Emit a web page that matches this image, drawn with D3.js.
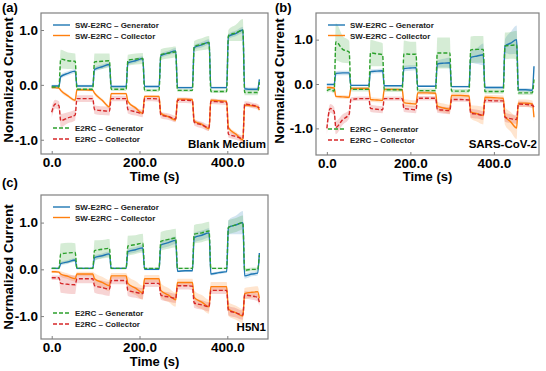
<!DOCTYPE html>
<html>
<head>
<meta charset="utf-8">
<script src="https://cdn.jsdelivr.net/npm/d3@7"></script>
<style>
  body { margin: 0; background: #fff; }
  text { font-family: "Liberation Sans", Arial, sans-serif; }
</style>
</head>
<body>
<svg id="fig" width="546" height="371"></svg>
<script>
// ---------- data ----------
const xTicks = [0, 200, 400];
const yTicks = [-1, 0, 1];
const seriesNames = ['SW-E2RC \u2013 Generator', 'SW-E2RC \u2013 Collector', 'E2RC \u2013 Generator', 'E2RC \u2013 Collector'];

// sample times (s); panels (a) and (c) share one time base, (b) has its own
const timeAC = [0, 8, 16.5, 20.5, 37, 53.5, 57.5, 76, 93.5, 97.5, 115, 131.5, 135.5, 153, 169.5,
  173.5, 191, 207.5, 211.5, 229, 244.5, 248.5, 266, 282.5, 286.5, 304, 320.5, 324.5, 342, 358.5,
  362.5, 381, 398.5, 402.5, 420, 435.5, 439.5, 456, 469, 473];
const timeB = [0, 8, 17.5, 21.5, 38, 53.5, 57.5, 78, 100.5, 104.5, 120, 133.5, 137.5, 158, 180.5,
  184.5, 200, 213.5, 217.5, 240, 260.5, 264.5, 280, 294.5, 298.5, 320, 340.5, 344.5, 360, 374.5,
  378.5, 400, 422.5, 426.5, 440, 454.5, 458.5, 476, 492, 496];

// (a) Blank Medium
const blankSwGen = [-0.02,-0.02,-0.02, 0.15,0.21,0.25, -0.02,-0.02,-0.02, 0.28,0.33,0.37, -0.03,-0.03,-0.03,
  0.40,0.44,0.48, -0.03,-0.03,-0.03, 0.53,0.58,0.62, -0.05,-0.05,-0.05, 0.68,0.73,0.78, -0.05,-0.05,-0.05,
  0.88,0.94,1.0, -0.07,-0.08,-0.08, 0.1];
const blankSwGenErr = [0.02,0.02,0.02, 0.04,0.04,0.04, 0.02,0.02,0.02, 0.04,0.04,0.04, 0.02,0.02,0.02,
  0.04,0.04,0.04, 0.02,0.02,0.02, 0.04,0.04,0.05, 0.02,0.02,0.02, 0.04,0.05,0.05, 0.02,0.02,0.02,
  0.05,0.05,0.06, 0.03,0.03,0.03, 0.03];
const blankSwCol = [-0.05,-0.05,-0.06, -0.1,-0.2,-0.28, -0.09,-0.09,-0.1, -0.15,-0.28,-0.4, -0.16,-0.16,-0.16,
  -0.3,-0.42,-0.52, -0.21,-0.21,-0.21, -0.52,-0.58,-0.64, -0.26,-0.26,-0.27, -0.66,-0.72,-0.8, -0.28,-0.29,-0.3,
  -0.78,-0.9,-1.0, -0.37,-0.38,-0.4, -0.46];
const blankSwColErr = [0.02,0.02,0.02, 0.03,0.03,0.03, 0.02,0.02,0.02, 0.03,0.03,0.03, 0.02,0.02,0.02,
  0.03,0.03,0.03, 0.02,0.02,0.02, 0.03,0.03,0.03, 0.02,0.02,0.02, 0.03,0.03,0.04, 0.02,0.02,0.02,
  0.04,0.04,0.04, 0.03,0.03,0.03, 0.03];
const blankGen = [-0.04,-0.04,-0.04, 0.47,0.44,0.43, -0.08,-0.08,-0.08, 0.42,0.43,0.44, -0.08,-0.08,-0.08,
  0.45,0.47,0.48, -0.1,-0.1,-0.1, 0.55,0.58,0.6, -0.1,-0.1,-0.1, 0.7,0.74,0.77, -0.12,-0.12,-0.12,
  0.9,0.95,1.0, -0.14,-0.14,-0.14, 0.05];
const blankGenErr = [0.03,0.03,0.03, 0.17,0.15,0.14, 0.03,0.03,0.03, 0.15,0.14,0.13, 0.03,0.03,0.03,
  0.1,0.1,0.1, 0.03,0.03,0.03, 0.1,0.1,0.1, 0.03,0.03,0.03, 0.1,0.11,0.12, 0.03,0.03,0.03,
  0.1,0.15,0.2, 0.05,0.05,0.05, 0.04];
const blankCol = [-0.5,-0.35,-0.38, -0.65,-0.6,-0.55, -0.25,-0.25,-0.25, -0.45,-0.47,-0.48, -0.25,-0.25,-0.25,
  -0.45,-0.49,-0.52, -0.25,-0.25,-0.26, -0.55,-0.58,-0.62, -0.28,-0.28,-0.29, -0.68,-0.73,-0.78, -0.3,-0.31,-0.32,
  -0.9,-0.94,-0.98, -0.35,-0.37,-0.4, -0.42];
const blankColErr = [0.1,0.08,0.08, 0.12,0.1,0.1, 0.06,0.06,0.06, 0.08,0.08,0.08, 0.05,0.05,0.05,
  0.07,0.07,0.07, 0.05,0.05,0.05, 0.06,0.06,0.06, 0.05,0.05,0.05, 0.06,0.06,0.06, 0.05,0.05,0.05,
  0.06,0.06,0.06, 0.05,0.05,0.05, 0.05];

// (b) SARS-CoV-2
const sarsSwGen = [-0.01,-0.01,-0.01, 0.24,0.25,0.25, -0.03,-0.03,-0.03, 0.28,0.29,0.3, -0.04,-0.04,-0.04,
  0.35,0.36,0.37, -0.05,-0.05,-0.05, 0.45,0.47,0.48, -0.06,-0.06,-0.06, 0.6,0.63,0.66, -0.08,-0.08,-0.08,
  0.85,0.92,1.0, -0.13,-0.13,-0.14, 0.4];
const sarsSwGenErr = [0.02,0.02,0.02, 0.05,0.05,0.05, 0.02,0.02,0.02, 0.05,0.05,0.05, 0.02,0.02,0.02,
  0.06,0.06,0.06, 0.02,0.02,0.02, 0.08,0.1,0.12, 0.02,0.02,0.02, 0.12,0.18,0.25, 0.03,0.03,0.03,
  0.15,0.25,0.32, 0.04,0.04,0.04, 0.04];
const sarsSwCol = [-0.08,-0.08,-0.09, -0.28,-0.29,-0.3, -0.1,-0.1,-0.1, -0.35,-0.36,-0.37, -0.12,-0.12,-0.13,
  -0.42,-0.44,-0.45, -0.2,-0.2,-0.21, -0.5,-0.54,-0.57, -0.26,-0.26,-0.27, -0.63,-0.67,-0.71, -0.3,-0.31,-0.32,
  -0.72,-0.85,-0.99, -0.43,-0.43,-0.45, -0.75];
const sarsSwColErr = [0.03,0.03,0.03, 0.04,0.04,0.04, 0.03,0.03,0.03, 0.05,0.05,0.05, 0.03,0.03,0.03,
  0.08,0.08,0.08, 0.04,0.04,0.04, 0.1,0.1,0.1, 0.05,0.05,0.05, 0.15,0.18,0.2, 0.06,0.06,0.06,
  0.2,0.22,0.25, 0.08,0.08,0.08, 0.1];
const sarsGen = [-0.15,-0.12,-0.16, 0.95,0.78,0.72, -0.12,-0.12,-0.12, 0.7,0.68,0.66, -0.13,-0.13,-0.13,
  0.68,0.67,0.67, -0.15,-0.15,-0.15, 0.7,0.7,0.7, -0.16,-0.16,-0.16, 0.77,0.78,0.78, -0.17,-0.17,-0.17,
  0.86,0.87,0.88, -0.2,-0.2,-0.2, 0.1];
const sarsGenErr = [0.05,0.05,0.05, 0.42,0.3,0.25, 0.05,0.05,0.05, 0.3,0.28,0.26, 0.05,0.05,0.05,
  0.3,0.28,0.28, 0.05,0.05,0.05, 0.35,0.35,0.35, 0.05,0.05,0.05, 0.3,0.3,0.3, 0.05,0.05,0.05,
  0.3,0.3,0.32, 0.05,0.05,0.05, 0.05];
const sarsCol = [-1.0,-0.55,-0.62, -0.98,-0.8,-0.68, -0.35,-0.33,-0.33, -0.55,-0.57,-0.58, -0.33,-0.33,-0.33,
  -0.55,-0.57,-0.58, -0.32,-0.32,-0.32, -0.57,-0.59,-0.6, -0.35,-0.35,-0.36, -0.66,-0.68,-0.71, -0.37,-0.38,-0.38,
  -0.75,-0.78,-0.8, -0.45,-0.46,-0.48, -0.52];
const sarsColErr = [0.15,0.1,0.1, 0.15,0.12,0.1, 0.05,0.05,0.05, 0.08,0.08,0.08, 0.05,0.05,0.05,
  0.08,0.08,0.08, 0.05,0.05,0.05, 0.08,0.08,0.08, 0.05,0.05,0.05, 0.1,0.1,0.1, 0.05,0.05,0.05,
  0.1,0.1,0.1, 0.06,0.06,0.06, 0.06];

// (c) H5N1
const h5SwGen = [0.02,0.02,0.02, 0.12,0.16,0.2, 0.02,0.02,0.02, 0.25,0.29,0.33, 0.02,0.02,0.02,
  0.38,0.42,0.46, 0.0,0.0,0.0, 0.52,0.57,0.62, -0.04,-0.03,-0.03, 0.68,0.73,0.78, -0.1,-0.07,-0.05,
  0.9,0.95,1.0, -0.14,-0.1,-0.08, 0.35];
const h5SwGenErr = [0.02,0.02,0.02, 0.04,0.04,0.04, 0.02,0.02,0.02, 0.05,0.05,0.05, 0.02,0.02,0.02,
  0.06,0.06,0.06, 0.02,0.02,0.02, 0.08,0.08,0.08, 0.02,0.02,0.02, 0.1,0.1,0.1, 0.03,0.03,0.03,
  0.15,0.2,0.25, 0.06,0.05,0.05, 0.05];
const h5SwCol = [-0.05,-0.05,-0.06, -0.1,-0.15,-0.2, -0.1,-0.1,-0.1, -0.2,-0.28,-0.35, -0.14,-0.14,-0.14,
  -0.3,-0.4,-0.5, -0.2,-0.2,-0.2, -0.45,-0.55,-0.65, -0.28,-0.28,-0.28, -0.6,-0.7,-0.8, -0.37,-0.37,-0.37,
  -0.85,-0.93,-1.0, -0.52,-0.49,-0.48, -0.62];
const h5SwColErr = [0.03,0.03,0.03, 0.06,0.06,0.06, 0.05,0.05,0.05, 0.12,0.12,0.12, 0.06,0.06,0.06,
  0.15,0.15,0.15, 0.08,0.08,0.08, 0.15,0.15,0.15, 0.08,0.08,0.08, 0.15,0.15,0.15, 0.1,0.1,0.1,
  0.15,0.15,0.15, 0.12,0.12,0.12, 0.12];
const h5Gen = [0.02,0.02,0.02, 0.33,0.35,0.36, 0.02,0.02,0.02, 0.4,0.43,0.45, 0.02,0.02,0.02,
  0.5,0.53,0.56, 0.02,0.02,0.02, 0.6,0.64,0.67, 0.02,0.02,0.02, 0.75,0.78,0.82, 0.02,0.02,0.02,
  0.9,0.95,1.0, -0.02,0.0,0.0, 0.3];
const h5GenErr = [0.02,0.02,0.02, 0.22,0.22,0.2, 0.02,0.02,0.02, 0.22,0.2,0.2, 0.02,0.02,0.02,
  0.22,0.2,0.2, 0.02,0.02,0.02, 0.2,0.2,0.2, 0.02,0.02,0.02, 0.2,0.2,0.2, 0.02,0.02,0.02,
  0.15,0.15,0.15, 0.04,0.04,0.04, 0.04];
const h5Col = [-0.18,-0.18,-0.18, -0.3,-0.32,-0.33, -0.2,-0.2,-0.2, -0.35,-0.39,-0.42, -0.24,-0.24,-0.24,
  -0.45,-0.49,-0.52, -0.3,-0.3,-0.3, -0.55,-0.59,-0.62, -0.35,-0.35,-0.36, -0.72,-0.76,-0.8, -0.45,-0.45,-0.45,
  -0.88,-0.93,-0.98, -0.55,-0.57,-0.6, -0.7];
const h5ColErr = [0.05,0.05,0.05, 0.2,0.2,0.2, 0.1,0.1,0.1, 0.15,0.15,0.15, 0.08,0.08,0.08,
  0.12,0.12,0.12, 0.08,0.08,0.08, 0.1,0.1,0.1, 0.08,0.08,0.08, 0.1,0.1,0.1, 0.08,0.08,0.08,
  0.1,0.1,0.1, 0.08,0.08,0.08, 0.08];

// ---------- layout ----------
const colors = ['#1f77b4', '#ff7f0e', '#2ca02c', '#d62728'];
const dashes = [null, null, '4,2', '4,2'];

const panels = [
  { label: '(a)', name: 'Blank Medium', time: timeAC,
    vals: [blankSwGen, blankSwCol, blankGen, blankCol],
    errs: [blankSwGenErr, blankSwColErr, blankGenErr, blankColErr],
    l: 41, r: 268, t: 13, b: 154, xDom: [-24.4, 492.7], yDom: [-1.26, 1.31],
    labelPos: [2, 12], yLabelPos: [13, 80], xLabelY: 181, nameY: 148 },
  { label: '(b)', name: 'SARS-CoV-2', time: timeB,
    vals: [sarsSwGen, sarsSwCol, sarsGen, sarsCol],
    errs: [sarsSwGenErr, sarsSwColErr, sarsGenErr, sarsColErr],
    l: 316, r: 539, t: 13, b: 155, xDom: [-26, 508], yDom: [-1.6, 1.6],
    labelPos: [275, 12], yLabelPos: [284, 81], xLabelY: 181, nameY: 148 },
  { label: '(c)', name: 'H5N1', time: timeAC,
    vals: [h5SwGen, h5SwCol, h5Gen, h5Col],
    errs: [h5SwGenErr, h5SwColErr, h5GenErr, h5ColErr],
    l: 41, r: 268, t: 195, b: 339, xDom: [-24.4, 492.7], yDom: [-1.49, 1.59],
    labelPos: [2, 187], yLabelPos: [13, 267], xLabelY: 366, nameY: 331 }
];

const svg = d3.select('#fig');

panels.forEach(p => {
  let x = d3.scaleLinear().domain(p.xDom).range([p.l, p.r]);
  let y = d3.scaleLinear().domain(p.yDom).range([p.b, p.t]);
  let g = svg.append('g');

  // error bands first
  p.vals.forEach((vals, i) => {
    let pts = vals.map((v, k) => ({ t: p.time[k], v: v, e: p.errs[i][k] }));
    g.append('path')
      .datum(pts)
      .attr('fill', colors[i])
      .attr('fill-opacity', 0.2)
      .attr('d', d3.area()
        .curve(d3.curveMonotoneX)
        .x(d => x(d.t))
        .y0(d => y(d.v - d.e))
        .y1(d => y(d.v + d.e)));
  });

  // mean curves
  p.vals.forEach((vals, i) => {
    let pts = vals.map((v, k) => ({ t: p.time[k], v: v }));
    g.append('path')
      .datum(pts)
      .attr('fill', 'none')
      .attr('stroke', colors[i])
      .attr('stroke-width', 1.4)
      .attr('stroke-dasharray', dashes[i])
      .attr('d', d3.line()
        .curve(d3.curveMonotoneX)
        .x(d => x(d.t))
        .y(d => y(d.v)));
  });

  // axes, ticks pointing inward
  let xAxis = g.append('g')
    .attr('transform', `translate(0,${p.b})`)
    .call(d3.axisBottom(x).tickValues(xTicks).tickFormat(d => d.toFixed(1))
      .tickSizeInner(-3).tickSizeOuter(0).tickPadding(3));
  let yAxis = g.append('g')
    .attr('transform', `translate(${p.l},0)`)
    .call(d3.axisLeft(y).tickValues(yTicks).tickFormat(d => d.toFixed(1))
      .tickSizeInner(-3).tickSizeOuter(0).tickPadding(3));
  [xAxis, yAxis].forEach(a => {
    a.select('.domain').remove();
    a.selectAll('line').attr('stroke', '#808080');
    a.selectAll('text')
      .attr('fill', '#000')
      .style('font-size', '13.5px')
      .style('font-weight', 'bold')
      .style('font-family', '"Liberation Sans", Arial, sans-serif');
  });

  // frame
  g.append('rect')
    .attr('x', p.l).attr('y', p.t)
    .attr('width', p.r - p.l).attr('height', p.b - p.t)
    .attr('fill', 'none')
    .attr('stroke', '#808080')
    .attr('stroke-width', 1.2);

  // legends: solid pair top-left, dashed pair bottom-left
  let legendY = [p.t + 12, p.t + 22.5, p.b - 26, p.b - 15];
  seriesNames.forEach((name, i) => {
    g.append('line')
      .attr('x1', p.l + 12).attr('x2', p.l + 29)
      .attr('y1', legendY[i]).attr('y2', legendY[i])
      .attr('stroke', colors[i])
      .attr('stroke-width', 1.4)
      .attr('stroke-dasharray', dashes[i]);
    g.append('text')
      .attr('x', p.l + 34).attr('y', legendY[i] + 3)
      .style('font-size', '8px')
      .style('font-weight', 'bold')
      .attr('fill', '#222')
      .text(name);
  });

  // medium name, bottom right
  g.append('text')
    .attr('x', p.r - 2).attr('y', p.nameY)
    .attr('text-anchor', 'end')
    .style('font-size', '11.5px')
    .style('font-weight', 'bold')
    .text(p.name);

  // axis titles
  g.append('text')
    .attr('x', (p.l + p.r) / 2).attr('y', p.xLabelY)
    .attr('text-anchor', 'middle')
    .style('font-size', '13px')
    .style('font-weight', 'bold')
    .text('Time (s)');
  g.append('text')
    .attr('transform', `translate(${p.yLabelPos[0]},${p.yLabelPos[1]}) rotate(-90)`)
    .attr('text-anchor', 'middle')
    .style('font-size', '13.5px')
    .style('font-weight', 'bold')
    .text('Normalized Current');

  // panel letter
  g.append('text')
    .attr('x', p.labelPos[0]).attr('y', p.labelPos[1])
    .style('font-size', '13px')
    .style('font-weight', 'bold')
    .text(p.label);
});
</script>
</body>
</html>
